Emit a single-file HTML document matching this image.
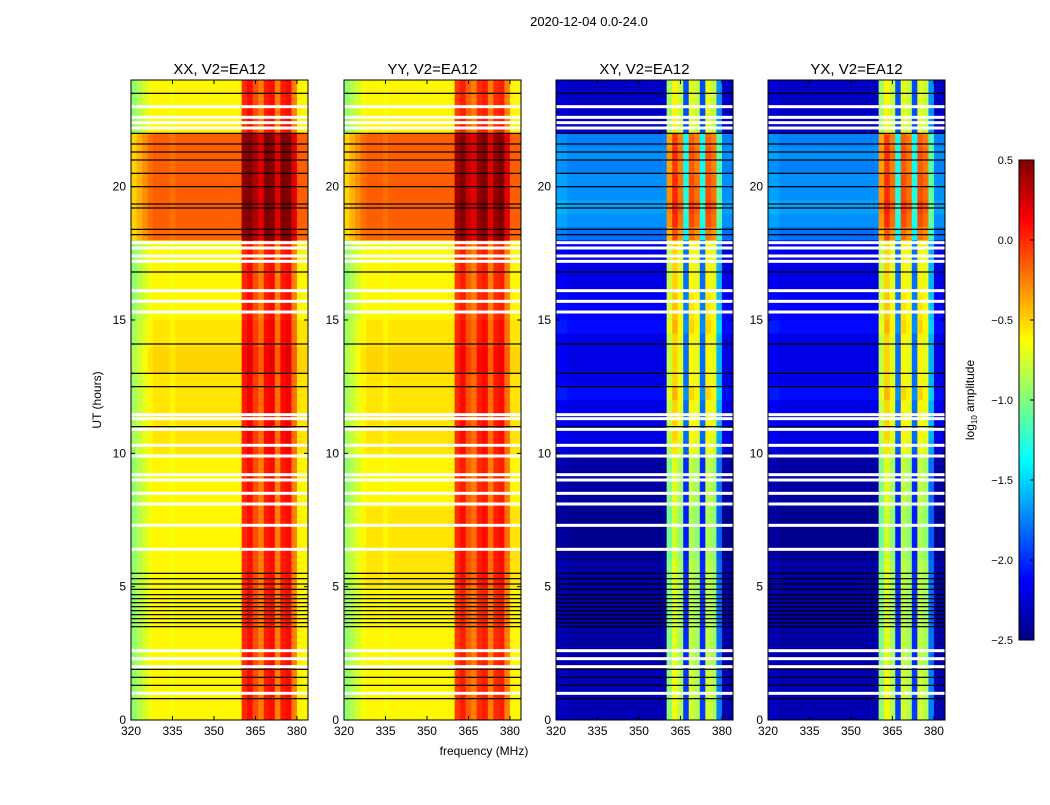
<!DOCTYPE html>
<html><head><meta charset="utf-8"><style>
body{margin:0;background:#fff;font-family:"Liberation Sans",sans-serif}
</style></head><body>
<svg id="fig" width="1050" height="800" viewBox="0 0 1050 800" xmlns="http://www.w3.org/2000/svg" font-family="Liberation Sans, sans-serif">
<rect width="1050" height="800" fill="#fff"/>
<text x="589" y="26" font-size="13" text-anchor="middle">2020-12-04 0.0-24.0</text>
<text x="484" y="755" font-size="12" text-anchor="middle">frequency (MHz)</text>
<text transform="translate(101,400) rotate(-90)" font-size="12" text-anchor="middle">UT (hours)</text>
<g id="panels"></g>
<g id="cbar"></g>
</svg>
<script>
// ---- data ----
const panelTitles = ["XX, V2=EA12","YY, V2=EA12","XY, V2=EA12","YX, V2=EA12"];
const freqBins = [320,322,324,326,328,330,332,334,336,338,340,342,344,346,348,350,352,354,356,358,360,362,364,366,368,370,372,374,376,378,380,382];
const xTickLabels = [320,335,350,365,380];
const yTickLabels = [0,5,10,15,20];
const cbarTicks = [0.5,0.0,-0.5,-1.0,-1.5,-2.0,-2.5];
// row levels per half hour (48 rows, 0h..24h)
const rowXX = [-0.55,-0.55,-0.55,-0.55,-0.55,-0.55,-0.55,-0.55,-0.55,-0.55,-0.55,-0.55,-0.55,-0.55,-0.55,-0.55,-0.55,-0.55,-0.55,-0.55,-0.5,-0.5,-0.5,-0.5,-0.5,-0.5,-0.45,-0.45,-0.5,-0.5,-0.55,-0.55,-0.55,-0.55,-0.55,-0.55,-0.12,-0.1,-0.1,-0.1,-0.1,-0.1,-0.1,-0.1,-0.55,-0.55,-0.55,-0.55];
const rowYY = [-0.55,-0.55,-0.55,-0.55,-0.55,-0.55,-0.55,-0.55,-0.55,-0.55,-0.5,-0.5,-0.5,-0.5,-0.5,-0.5,-0.55,-0.55,-0.55,-0.55,-0.5,-0.5,-0.5,-0.5,-0.5,-0.5,-0.45,-0.45,-0.5,-0.5,-0.55,-0.55,-0.55,-0.55,-0.55,-0.55,-0.12,-0.1,-0.1,-0.1,-0.1,-0.1,-0.1,-0.1,-0.55,-0.55,-0.55,-0.55];
const rowXY = [-2.35,-2.35,-2.35,-2.35,-2.4,-2.4,-2.4,-2.4,-2.4,-2.4,-2.4,-2.4,-2.45,-2.45,-2.45,-2.45,-2.4,-2.4,-2.4,-2.4,-2.25,-2.2,-2.2,-2.2,-2.1,-2.2,-2.2,-2.2,-2.2,-2.1,-2.15,-2.15,-2.2,-2.2,-2.2,-2.2,-1.8,-1.7,-1.65,-1.7,-1.7,-1.75,-1.7,-1.75,-2.3,-2.3,-2.3,-2.3];
const rowYX = rowXY.slice();
const colXX = [-0.4,-0.3,-0.2,-0.1,-0.05,-0.05,-0.05,-0.1,-0.05,-0.05,-0.05,-0.05,-0.05,-0.05,-0.05,-0.05,-0.05,-0.05,-0.05,-0.05,0.55,0.65,0.45,0.3,0.6,0.65,0.3,0.6,0.65,0.3,-0.05,-0.05];
const colYY = [-0.4,-0.3,-0.2,-0.1,-0.05,-0.05,-0.05,-0.1,-0.05,-0.05,-0.05,-0.05,-0.05,-0.05,-0.05,-0.05,-0.05,-0.05,-0.05,-0.05,0.5,0.6,0.4,0.3,0.55,0.6,0.3,0.55,0.6,0.3,-0.05,-0.05];
const colXY = [0.05,0.05,0,0,0,0,0,0,0,0,0,0,0,0,0,0,0,0,0,0,1.4,1.7,1.5,0.4,1.6,1.5,0.4,1.6,1.5,0.6,0,0];
const colYX = colXY.slice();
const blackLines = [0.8,1.3,1.6,1.9,3.5,3.65,3.8,3.95,4.1,4.25,4.4,4.55,4.7,4.9,5.1,5.3,5.5,11.0,12.5,13.0,14.1,16.8,18.2,18.4,19.2,19.35,20.0,20.5,21.0,21.3,21.6,22.0,23.5];
const whiteLines = [1.0,2.0,2.3,2.6,6.4,7.3,8.1,8.5,9.0,9.2,9.9,10.3,10.9,11.3,11.45,15.3,15.7,16.1,17.2,17.4,17.7,17.9,22.2,22.4,22.6,23.0];
const rowsAll=[rowXX,rowYY,rowXY,rowYX], colsAll=[colXX,colYY,colXY,colYX];

// ---- geometry ----
const NS="http://www.w3.org/2000/svg";
const panelsX=[131,344,556,768], PW=177, PT=80, PB=720;
const fMin=320,fMax=384,tMin=0,tMax=24;
const vMin=-2.5,vMax=0.5;
function jet(v){let t=(v-vMin)/(vMax-vMin);t=Math.max(0,Math.min(1,t));
 const c=x=>Math.round(255*Math.max(0,Math.min(1,x)));
 return `rgb(${c(1.5-Math.abs(4*t-3))},${c(1.5-Math.abs(4*t-2))},${c(1.5-Math.abs(4*t-1))})`;}
function el(tag,attrs,parent){const e=document.createElementNS(NS,tag);for(const k in attrs)e.setAttribute(k,attrs[k]);parent.appendChild(e);return e;}
const G=document.getElementById('panels');
panelsX.forEach((x0,p)=>{
 const xs=f=>x0+(f-fMin)/(fMax-fMin)*PW, ys=t=>PB-(t-tMin)/(tMax-tMin)*(PB-PT);
 const g=el('g',{},G);
 
 
 const rows=rowsAll[p], cols=colsAll[p], nR=rows.length;
 for(let r=0;r<nR;r++){for(let c=0;c<freqBins.length;c++){
  const f0=freqBins[c], f1=f0+2, t0=r*24/nR, t1=(r+1)*24/nR;
  const rc=el('rect',{x:xs(f0),y:ys(t1),width:xs(f1)-xs(f0)+0.4,height:ys(t0)-ys(t1)+0.4,fill:jet(rows[r]+cols[c])},g);
  
  
 }}
 whiteLines.forEach(h=>{const l=el('rect',{x:x0,y:ys(h)-1.5,width:PW,height:3,fill:'#fff'},g);
  
  });
 blackLines.forEach(h=>{const l=el('rect',{x:x0,y:ys(h)-0.6,width:PW,height:1.2,fill:'#000'},g);
  
  });
 const fr=el('rect',{x:x0,y:PT,width:PW,height:PB-PT,fill:'none',stroke:'#000','stroke-width':1},g);
 
 
 const tt=el('text',{x:x0+PW/2,y:PT-6,'font-size':15,'text-anchor':'middle'},g);tt.textContent=panelTitles[p];
 
 
 xTickLabels.forEach(f=>{const x=xs(f);
  el('line',{x1:x,x2:x,y1:PB,y2:PB-4,stroke:'#000'},g);el('line',{x1:x,x2:x,y1:PT,y2:PT+4,stroke:'#000'},g);
  const t=el('text',{x:x,y:PB+15,'font-size':12,'text-anchor':'middle'},g);t.textContent=f;
  
  });
 yTickLabels.forEach(h=>{const y=ys(h);
  el('line',{x1:x0,x2:x0+4,y1:y,y2:y,stroke:'#000'},g);el('line',{x1:x0+PW,x2:x0+PW-4,y1:y,y2:y,stroke:'#000'},g);
  const t=el('text',{x:x0-5,y:y+4,'font-size':12,'text-anchor':'end'},g);t.textContent=h;
  
  });
});
// colorbar
const CB=document.getElementById('cbar');


const cx=1019,cw=15,cT=160,cBt=640;
const cy=v=>cBt-(v-vMin)/(vMax-vMin)*(cBt-cT);
for(let i=0;i<120;i++){const v0=vMin+i*(vMax-vMin)/120,v1=vMin+(i+1)*(vMax-vMin)/120;
 el('rect',{x:cx,y:cy(v1),width:cw,height:cy(v0)-cy(v1)+0.5,fill:jet((v0+v1)/2)},CB);}
el('rect',{x:cx,y:cT,width:cw,height:cBt-cT,fill:'none',stroke:'#000'},CB);
cbarTicks.forEach(v=>{const y=cy(v);el('line',{x1:cx+cw-4,x2:cx+cw,y1:y,y2:y,stroke:'#000'},CB);
 const t=el('text',{x:1013,y:y+4,'font-size':11,'text-anchor':'end'},CB);t.textContent=v.toFixed(1).replace('-','\u2212');
 
 });
const lab=el('text',{transform:'translate(974,400) rotate(-90)','font-size':12,'text-anchor':'middle'},CB);
lab.innerHTML='log<tspan font-size="8" dy="3">10</tspan><tspan dy="-3"> amplitude</tspan>';


</script>
</body></html>
